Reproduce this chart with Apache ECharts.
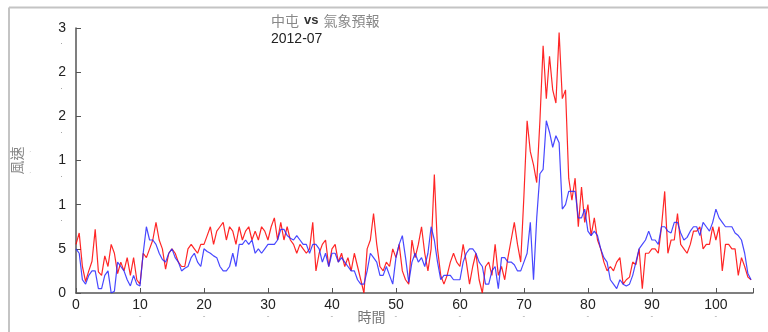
<!DOCTYPE html>
<html>
<head>
<meta charset="utf-8">
<script src="https://cdn.jsdelivr.net/npm/echarts@6/dist/echarts.min.js"></script>
<style>
  html, body { margin: 0; padding: 0; background: #fff; }
  #chart { width: 768px; height: 332px; }
</style>
</head>
<body>
<div id="chart"></div>
<script>
// 取樣間隔 (時間軸單位)
var timeStep = 0.5;
var timeTicks = [0, 10, 20, 30, 40, 50, 60, 70, 80, 90, 100];
// y 軸原圖顯示的刻度文字
var speedTickText = { '0': '0', '0.5': '5', '1': '1', '1.5': '1', '2': '2', '2.5': '2', '3': '3' };

// 中屯 實測 (紅)
var observed = [
  0.55, 0.68, 0.30, 0.13, 0.25, 0.36, 0.72, 0.24, 0.20, 0.42,
  0.30, 0.55, 0.45, 0.22, 0.35, 0.25, 0.40, 0.20, 0.40, 0.15,
  0.10, 0.45, 0.40, 0.50, 0.60, 0.80, 0.60, 0.50, 0.27, 0.45,
  0.50, 0.45, 0.35, 0.30, 0.30, 0.50, 0.55, 0.50, 0.45, 0.55,
  0.55, 0.65, 0.75, 0.55, 0.70, 0.75, 0.80, 0.60, 0.75, 0.70,
  0.55, 0.75, 0.60, 0.70, 0.75, 0.60, 0.70, 0.60, 0.75, 0.70,
  0.60, 0.75, 0.85, 0.60, 0.80, 0.60, 0.75, 0.60, 0.55, 0.45,
  0.55, 0.50, 0.45, 0.50, 0.80, 0.25, 0.45, 0.55, 0.60, 0.30,
  0.50, 0.55, 0.35, 0.45, 0.30, 0.40, 0.25, 0.45, 0.30, 0.15,
  0.00, 0.50, 0.60, 0.90, 0.55, 0.30, 0.25, 0.35, 0.30, 0.50,
  0.40, 0.55, 0.25, 0.15, 0.10, 0.60, 0.40, 0.55, 0.75, 0.45,
  0.25, 0.50, 1.34, 0.50, 0.20, 0.10, 0.20, 0.35, 0.45, 0.35,
  0.30, 0.55, 0.35, 0.10, 0.30, 0.45, 0.15, 0.00, 0.30, 0.35,
  0.20, 0.55, 0.20, 0.30, 0.15, 0.40, 0.60, 0.80, 0.55, 0.35,
  1.10, 1.95, 1.60, 1.45, 1.25, 1.95, 2.80, 2.20, 2.68, 2.30,
  2.15, 2.95, 2.20, 2.30, 1.30, 1.05, 1.30, 0.75, 1.20, 0.80,
  1.00, 0.65, 0.85, 0.60, 0.50, 0.35, 0.25, 0.30, 0.25, 0.35,
  0.40, 0.10, 0.15, 0.18, 0.35, 0.32, 0.50, 0.05, 0.45, 0.45,
  0.50, 0.50, 0.45, 0.75, 1.15, 0.45, 0.60, 0.60, 0.90, 0.55,
  0.50, 0.45, 0.55, 0.70, 0.70, 0.75, 0.50, 0.55, 0.55, 0.75,
  0.60, 0.75, 0.25, 0.55, 0.55, 0.50, 0.50, 0.20, 0.40, 0.30,
  0.18, 0.15
];

// 氣象預報 (藍)
var forecast = [
  0.50, 0.45, 0.15, 0.10, 0.20, 0.25, 0.25, 0.05, 0.05, 0.20,
  0.25, 0.00, 0.02, 0.35, 0.30, 0.25, 0.15, 0.08, 0.20, 0.10,
  0.08, 0.45, 0.75, 0.60, 0.60, 0.55, 0.45, 0.38, 0.35, 0.45,
  0.50, 0.40, 0.35, 0.25, 0.28, 0.30, 0.40, 0.45, 0.35, 0.30,
  0.50, 0.47, 0.45, 0.42, 0.40, 0.30, 0.25, 0.25, 0.30, 0.45,
  0.30, 0.55, 0.55, 0.60, 0.55, 0.60, 0.45, 0.50, 0.45, 0.50,
  0.55, 0.55, 0.55, 0.60, 0.72, 0.72, 0.65, 0.62, 0.60, 0.65,
  0.60, 0.55, 0.55, 0.45, 0.55, 0.55, 0.50, 0.35, 0.45, 0.30,
  0.45, 0.45, 0.35, 0.40, 0.35, 0.30, 0.25, 0.25, 0.15, 0.10,
  0.10, 0.25, 0.45, 0.40, 0.35, 0.20, 0.20, 0.30, 0.20, 0.10,
  0.40, 0.55, 0.65, 0.40, 0.12, 0.35, 0.45, 0.35, 0.40, 0.30,
  0.45, 0.75, 0.60, 0.35, 0.15, 0.20, 0.20, 0.20, 0.15, 0.15,
  0.15, 0.35, 0.45, 0.50, 0.50, 0.45, 0.35, 0.30, 0.10, 0.10,
  0.25, 0.30, 0.05, 0.40, 0.40, 0.35, 0.35, 0.32, 0.25, 0.25,
  0.35, 0.45, 0.80, 0.15, 0.85, 1.35, 1.40, 1.95, 1.82, 1.65,
  1.78, 1.70, 0.95, 1.00, 1.15, 1.15, 1.15, 0.85, 0.85, 0.95,
  0.70, 0.65, 0.70, 0.65, 0.50, 0.40, 0.35, 0.15, 0.10, 0.05,
  0.15, 0.10, 0.08, 0.10, 0.20, 0.35, 0.50, 0.55, 0.60, 0.70,
  0.60, 0.60, 0.55, 0.75, 0.75, 0.70, 0.68, 0.80, 0.80, 0.68,
  0.60, 0.63, 0.70, 0.75, 0.75, 0.65, 0.80, 0.75, 0.70, 0.80,
  0.95, 0.85, 0.80, 0.75, 0.75, 0.75, 0.68, 0.65, 0.60, 0.45,
  0.22, 0.15
];

function toPoints(values) {
    var pts = [];
    for (var i = 0; i < values.length; i++) {
        pts.push([i * timeStep, values[i]]);
    }
    return pts;
}

var chart = echarts.init(document.getElementById('chart'));
chart.setOption({
    animation: false,
    backgroundColor: '#fff',
    title: {
        left: 266,
        top: 6,
        text: '{g|中屯} {b|vs} {g|氣象預報}\n{d|2012-07}',
        textStyle: {
            fontWeight: 'normal',
            rich: {
                g: { fontSize: 14, color: '#888', fontWeight: 'normal', fontFamily: 'Noto Sans CJK TC', lineHeight: 19 },
                b: { fontSize: 13, color: '#333', fontWeight: 'bold', fontFamily: 'Liberation Sans', lineHeight: 19 },
                d: { fontSize: 14, color: '#222', fontWeight: 'normal', fontFamily: 'Liberation Sans', lineHeight: 19 }
            }
        }
    },
    graphic: [
        { type: 'line', shape: { x1: 9, y1: 7.5, x2: 768, y2: 7.5 }, style: { stroke: '#c4c4c4', lineWidth: 2 } },
        { type: 'line', shape: { x1: 9, y1: 7.5, x2: 9, y2: 332 }, style: { stroke: '#c4c4c4', lineWidth: 2 } }
    ],
    grid: { left: 76, right: 15, top: 28, bottom: 39, outerBoundsMode: 'none' },
    xAxis: {
        type: 'value',
        min: 0,
        max: 105.8,
        interval: 10,
        name: '時間',
        nameLocation: 'middle',
        nameGap: 17,
        nameMoveOverlap: false,
        nameTextStyle: { color: '#777', fontSize: 14, fontFamily: 'Noto Sans CJK TC', padding: [0, 86, 0, 0] },
        splitLine: { show: false },
        axisLine: { lineStyle: { color: '#555', width: 1.5 } },
        axisTick: { inside: true, length: 5, lineStyle: { color: '#555' } },
        axisLabel: {
            margin: 5,
            formatter: function (v) {
                if (timeTicks.indexOf(v) < 0) return '';
                return v === 0 ? '{a|0}' : '{a|' + v + '}\n{m|-}';
            },
            rich: {
                a: { fontSize: 14, color: '#222', fontFamily: 'Liberation Sans', lineHeight: 15 },
                m: { fontSize: 8, color: '#999', lineHeight: 6 }
            }
        }
    },
    yAxis: {
        type: 'value',
        min: 0,
        max: 3,
        interval: 0.5,
        name: '{n|風速}\n{m|、         、}',
        nameLocation: 'middle',
        nameRotate: 90,
        nameGap: 44,
        nameMoveOverlap: false,
        nameTextStyle: {
            rich: {
                n: { fontSize: 14, color: '#888', fontFamily: 'Noto Sans CJK TC', lineHeight: 14 },
                m: { fontSize: 6, color: '#999', lineHeight: 8 }
            }
        },
        splitLine: { show: false },
        axisLine: { show: true, lineStyle: { color: '#555', width: 1.5 } },
        axisTick: { show: true, inside: true, length: 5, lineStyle: { color: '#555' } },
        axisLabel: {
            margin: 10,
            padding: [12, 0, 0, 0],
            formatter: function (v) {
                var t = speedTickText[String(v)];
                if (v === 0 || v === 0.5) return '{a|' + t + '}\n{d| }';
                return '{a|' + t + '}\n{d|.}';
            },
            rich: {
                a: { fontSize: 14, color: '#222', fontFamily: 'Liberation Sans', lineHeight: 16, align: 'right' },
                d: { fontSize: 9, color: '#999', lineHeight: 12, align: 'left', padding: [0, 0, 0, 2] }
            }
        }
    },
    series: [
        {
            name: '中屯',
            type: 'line',
            data: toPoints(observed),
            symbol: 'none',
            lineStyle: { color: 'rgba(255,0,0,0.85)', width: 1.2 },
            z: 2
        },
        {
            name: '氣象預報',
            type: 'line',
            data: toPoints(forecast),
            symbol: 'none',
            lineStyle: { color: 'rgba(40,40,255,0.85)', width: 1.2 },
            z: 3
        }
    ]
});
</script>
</body>
</html>
